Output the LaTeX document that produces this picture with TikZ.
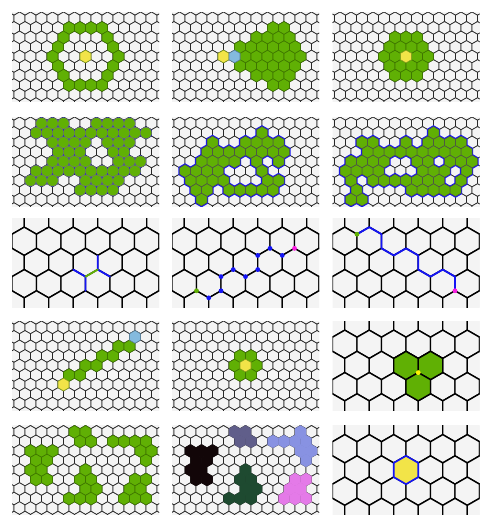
\documentclass[tikz,border=0pt]{standalone}
\definecolor{bgc}{RGB}{244,244,244}
\definecolor{grn}{RGB}{96,176,4}
\definecolor{grnd}{RGB}{62,118,0}
\definecolor{yel}{RGB}{242,228,72}
\definecolor{lblu}{RGB}{132,186,222}
\definecolor{pblu}{RGB}{20,20,245}
\definecolor{mag}{RGB}{250,30,225}
\definecolor{gline}{RGB}{40,40,40}
\definecolor{rblack}{RGB}{18,6,8}
\definecolor{rslate}{RGB}{96,94,138}
\definecolor{rperi}{RGB}{136,146,226}
\definecolor{rdgreen}{RGB}{30,74,48}
\definecolor{rviolet}{RGB}{228,122,232}
\def\hw{11}\def\hs{6.351}\def\hh{9.526}
\newcommand\hexsmall{\def\hw{11}\def\hs{6.351}\def\hh{9.526}}
\newcommand\hexlarge{\def\hw{24.5}\def\hs{14.145}\def\hh{21.218}}
\newcommand\hexat[3]{%
  \pgfmathsetmacro\hxx{((#2)+0.5*abs(mod(#1,2)))*\hw}%
  \pgfmathsetmacro\hyy{(#1)*\hh}%
  \path[#3] (\hxx,\hyy) +(30:\hs) -- +(90:\hs) -- +(150:\hs) -- +(210:\hs) -- +(270:\hs) -- +(330:\hs) -- cycle;}
\newcommand\hexgrid[3]{\foreach \r in {-#1,...,#1}{\foreach \c in {-#2,...,#2}{\hexat{\r}{\c}{#3}}}}
\newcommand\cells[2]{\edef\celllist{#1}\foreach \r/\c in \celllist {\hexat{\r}{\c}{#2}}}
\newcommand\panelbegin[2]{\begin{scope}
  \clip (#1,#2) rectangle ++(147,89);
  \fill[bgc] (#1,#2) rectangle ++(147,89);
  \begin{scope}[shift={(#1+73.5,#2+44.5)}]}
\newcommand\panelend{\end{scope}\end{scope}}
\tikzset{
  gridS/.style={fill=bgc,draw=gline,line width=0.7pt},
  gridL/.style={fill=bgc,draw=black,line width=1.4pt},
  gcell/.style={fill=grn,draw=grnd,line width=0.6pt},
  ycell/.style={fill=yel,draw=grnd!60!yel,line width=0.6pt},
  bcell/.style={fill=lblu,draw=lblu!70!black,line width=0.6pt},
  bluehalo/.style={draw=pblu,line width=2.4pt},
  gflat/.style={fill=grn,draw=black!70,line width=0.5pt},
  bfill/.style={fill=pblu},
  ground/.style={fill=grn,draw=black!55,line width=0.4pt,rounded corners=2.3pt},
  pathline/.style={draw=pblu,line width=1.8pt,line cap=round,line join=round},
  gseg/.style={draw=grn,line width=1.8pt,line cap=round},
  bdot/.style={fill=pblu},
  gdot/.style={fill=grn},
  mdot/.style={fill=mag},
}
\begin{document}
\begin{tikzpicture}[x=1pt,y=-1pt]
\useasboundingbox (0,0) rectangle (500,530);
\fill[white] (0,0) rectangle (500,530);
% ---------- row 1 ----------
\hexsmall
\panelbegin{12}{12}
 \hexgrid{5}{7}{gridS}
 \cells{-3/-2,-3/-1,-3/0,-3/1,3/-2,3/-1,3/0,3/1,-2/-2,-2/2,2/-2,2/2,-1/-3,-1/2,1/-3,1/2,0/-3,0/3}{gcell}
 \hexat{0}{0}{ycell}
\panelend
\panelbegin{172}{12}
 \hexgrid{5}{7}{gridS}
 \cells{0/0,0/1,0/2,0/3,0/4,0/5,-1/-1,-1/0,-1/1,-1/2,-1/3,-1/4,1/-1,1/0,1/1,1/2,1/3,1/4,-2/1,-2/2,-2/3,-2/4,2/1,2/2,2/3,2/4,-3/2,-3/3,3/2,3/3}{gcell}
 \hexat{0}{-2}{ycell}
 \hexat{0}{-1}{bcell}
\panelend
\panelbegin{332.5}{12}
 \hexgrid{5}{7}{gridS}
 \cells{0/-2,0/-1,0/1,0/2,-1/-2,-1/-1,-1/0,-1/1,1/-2,1/-1,1/0,1/1,-2/-1,-2/0,-2/1,2/-1,2/0,2/1}{gcell}
 \hexat{0}{0}{ycell}
\panelend
% ---------- row 2 ----------
\panelbegin{12}{117}
 \hexgrid{5}{7}{gridS}
 \def\Pfour{-4/-4,-4/-3,-4/-2,-4/1,-4/2,-4/3,-4/4,-3/-5,-3/-4,-3/-3,-3/-2,-3/-1,-3/0,-3/1,-3/2,-3/3,-3/4,-3/5,-2/-3,-2/-2,-2/-1,-2/0,-2/2,-2/3,-2/4,-1/-3,-1/-2,-1/-1,-1/2,-1/3,0/-3,0/-2,0/-1,0/0,0/3,0/4,0/5,1/-5,1/-4,1/-3,1/-2,1/-1,1/0,1/1,1/2,1/3,1/4,2/-5,2/-4,2/-3,2/0,2/1,2/2,2/3,3/-1,3/0,3/1,3/2}
 \cells{\Pfour}{bfill}
 \cells{\Pfour}{ground}
\panelend
\panelbegin{172}{117}
 \hexgrid{5}{7}{gridS}
 \def\Pfive{-3/1,-2/-3,-2/0,-2/1,-2/2,-2/3,-1/-4,-1/-3,-1/-2,-1/-1,-1/0,-1/1,-1/2,-1/3,0/-4,0/-3,0/-2,0/-1,0/1,0/3,1/-6,1/-5,1/-4,1/-3,1/1,2/-5,2/-4,2/-3,2/-2,2/2,2/3,3/-5,3/-4,3/-2,3/-1,3/0,3/1,3/2,4/-4}
 \cells{\Pfive}{bluehalo}
 \cells{\Pfive}{gflat}
\panelend
\panelbegin{332.5}{117}
 \hexgrid{5}{7}{gridS}
 \def\Psix{-3/2,-2/-4,-2/-3,-2/0,-2/2,-2/3,-2/4,-2/5,-1/-4,-1/-3,-1/-2,-1/-1,-1/0,-1/1,-1/2,-1/3,-1/4,-1/5,0/-5,0/-4,0/-3,0/-2,0/1,0/2,0/4,0/5,0/6,1/-6,1/-5,1/-4,1/-3,1/1,1/2,1/3,1/5,2/-5,2/-3,2/-2,2/-1,2/0,2/1,2/2,2/3,2/5,3/-5,3/0,3/1,3/2,3/3,3/4,4/-5,4/-4}
 \cells{\Psix}{bluehalo}
 \cells{\Psix}{gflat}
\panelend
% ---------- row 3 ----------
\hexlarge
\panelbegin{12}{218}
 \hexgrid{3}{4}{gridL}
 \coordinate (LL) at ({-\hw/2},{\hs/2});
 \coordinate (B) at (0,\hs);
 \coordinate (UR) at ({\hw/2},{-\hs/2});
 \coordinate (LR) at ({\hw/2},{\hs/2});
 \coordinate (BB) at (0,{2*\hs});
 \coordinate (RB) at (\hw,\hs);
 \draw[pathline] (LL) -- (B) -- (BB);
 \draw[pathline] (UR) -- (LR) -- (RB);
 \draw[gseg] (B) -- (LR);
\panelend
\panelbegin{172}{218}
 \hexgrid{3}{4}{gridL}
 \foreach \a/\b in {-1.5/2.5,-1/2,-1/1,-0.5/0.5,0/1,0.5/0.5,0.5/-0.5,1/-1,1.5/-0.5}
   {\fill[bdot] ({\a*\hw},{\b*\hs}) circle (2.4);}
 \fill[gdot] ({-2*\hw},{2*\hs}) circle (2.4);
 \fill[mdot] ({2*\hw},{-\hs}) circle (2.4);
\panelend
\panelbegin{332.5}{218}
 \hexgrid{3}{4}{gridL}
 \draw[pathline] ({-2*\hw},{-2*\hs}) -- ({-1.5*\hw},{-2.5*\hs}) -- ({-\hw},{-2*\hs}) -- ({-\hw},{-\hs}) -- ({-.5*\hw},{-.5*\hs}) -- (0,{-\hs}) -- ({.5*\hw},{-.5*\hs}) -- ({.5*\hw},{.5*\hs}) -- (\hw,\hs) -- ({1.5*\hw},{.5*\hs}) -- ({2*\hw},\hs) -- ({2*\hw},{2*\hs});
 \fill[gdot] ({-2*\hw},{-2*\hs}) circle (2.4);
 \fill[mdot] ({2*\hw},{2*\hs}) circle (2.4);
\panelend
% ---------- row 4 ----------
\hexsmall
\panelbegin{12}{321}
 \hexgrid{5}{7}{gridS}
 \cells{1/-2,1/-1,0/0,0/1,-1/1,-1/2,-2/3,-2/4}{gcell}
 \hexat{2}{-2}{ycell}
 \hexat{-3}{4}{bcell}
\panelend
\panelbegin{172}{321}
 \hexgrid{5}{7}{gridS}
 \cells{0/-1,0/1,-1/-1,-1/0,1/-1,1/0}{gcell}
 \hexat{0}{0}{ycell}
\panelend
\hexlarge
\panelbegin{332.5}{321}
 \hexgrid{3}{4}{gridL}
 \cells{0/0,0/1,1/0}{fill=grn,draw=black,line width=1.4pt}
 \fill[yellow] ({\hw/2},{\hs/2}) circle (2.4);
\panelend
% ---------- row 5 ----------
\hexsmall
\panelbegin{12}{425.5}
 \hexgrid{5}{7}{gridS}
 \cells{-4/-1,-4/0,-3/-1,-3/0,-3/2,-3/3,-3/4,-3/5,-2/-5,-2/-4,-2/-3,-2/5,-2/6,-1/-5,-1/-4,-1/5,0/-5,0/-4,0/0,1/-5,1/-4,1/-1,1/0,1/4,1/5,2/0,2/1,2/4,2/5,3/-2,3/-1,3/0,3/3,3/4,3/5}{gcell}
\panelend
\panelbegin{172}{425.5}
 \hexgrid{5}{7}{gridS}
 \cells{-2/-5,-2/-4,-2/-3,-1/-5,-1/-4,0/-5,0/-4,1/-5,1/-4}{fill=rblack,draw=rblack}
 \cells{-4/-1,-4/0,-3/-1,-3/0}{fill=rslate,draw=rslate}
 \cells{-4/5,-3/2,-3/3,-3/4,-3/5,-2/5,-2/6,-1/5}{fill=rperi,draw=rperi}
 \cells{0/0,1/-1,1/0,2/0,2/1,3/-2,3/-1,3/0}{fill=rdgreen,draw=rdgreen}
 \cells{1/4,1/5,2/4,2/5,3/3,3/4,3/5}{fill=rviolet,draw=rviolet}
\panelend
\hexlarge
\panelbegin{332.5}{425.5}
 \hexgrid{3}{4}{gridL}
 \hexat{0}{0}{fill=yel,draw=pblu,line width=1.6pt}
\panelend
\end{tikzpicture}
\end{document}
